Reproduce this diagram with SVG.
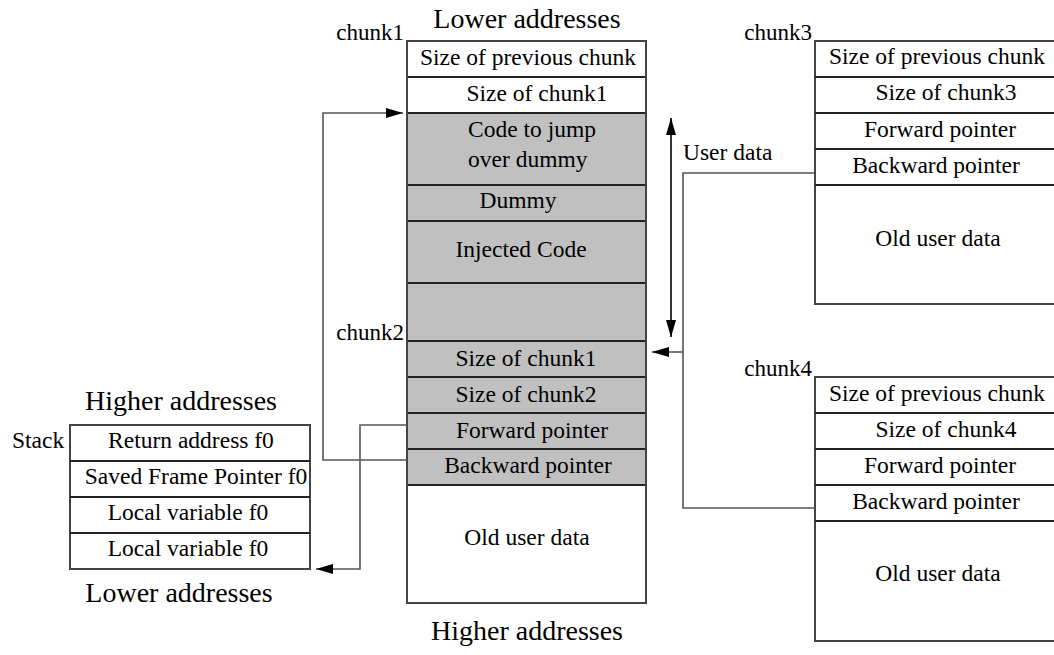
<svg xmlns="http://www.w3.org/2000/svg" width="1054" height="655" viewBox="0 0 1054 655" font-family="'Liberation Serif', 'Times New Roman', Times, serif">
  <style>
    text { fill: #000; }
    .cell { font-size: 23.5px; text-anchor: middle; }
    .big { font-size: 28px; text-anchor: middle; }
    .lbl { font-size: 23px; text-anchor: end; }
    .left { text-anchor: start; }
    .box { fill: #fff; stroke: #444; stroke-width: 2; }
    .gray { fill: #c0c0c0; stroke: none; }
    .div { stroke: #222; stroke-width: 2; fill: none; }
    .conn { stroke: #555; stroke-width: 1.6; fill: none; }
  </style>
  <defs>
    <marker id="arrow" markerUnits="userSpaceOnUse" markerWidth="18" markerHeight="10" refX="17" refY="5" orient="auto">
      <path d="M0,0 L17,5 L0,10 Z" fill="#000"/>
    </marker>
    <marker id="arrowStart" markerUnits="userSpaceOnUse" markerWidth="18" markerHeight="10" refX="1" refY="5" orient="auto">
      <path d="M18,0 L1,5 L18,10 Z" fill="#000"/>
    </marker>
  </defs>

  <rect width="1054" height="655" fill="#fff"/>

  <!-- chunk1 / chunk2 (overwritten chunk) -->
  <g id="chunk1">
    <rect class="box" x="407" y="41" width="239" height="562"/>
    <rect class="gray" x="408" y="113" width="237" height="372"/>
    <path class="div" d="M407,77H646M407,113H646M407,185H646M407,221H646M407,283H646M407,341H646M407,377H646M407,413H646M407,449H646M407,485H646"/>
    <path d="M407,41V603M646,41V603" stroke="#444" stroke-width="2" fill="none"/>
    <text class="big" x="527" y="28">Lower addresses</text>
    <text class="lbl" x="404" y="40">chunk1</text>
    <text class="cell" x="528" y="65">Size of previous chunk</text>
    <text class="cell" x="537" y="101">Size of chunk1</text>
    <text class="cell left" x="468" y="137">Code to jump</text>
    <text class="cell left" x="468" y="167">over dummy</text>
    <text class="cell" x="518" y="208">Dummy</text>
    <text class="cell" x="521" y="257">Injected Code</text>
    <text class="big" x="527" y="640">Higher addresses</text>
  </g>

  <g id="chunk2">
    <text class="lbl" x="404" y="340">chunk2</text>
    <text class="cell" x="526" y="366">Size of chunk1</text>
    <text class="cell" x="526" y="402">Size of chunk2</text>
    <text class="cell" x="532" y="438">Forward pointer</text>
    <text class="cell" x="528" y="473">Backward pointer</text>
    <text class="cell" x="527" y="545">Old user data</text>
  </g>

  <!-- chunk3 -->
  <g id="chunk3">
    <rect class="box" x="815" y="41" width="245" height="263"/>
    <path class="div" d="M815,77H1054M815,113H1054M815,149H1054M815,185H1054"/>
    <text class="lbl" x="812" y="40">chunk3</text>
    <text class="cell" x="937" y="64">Size of previous chunk</text>
    <text class="cell" x="946" y="100">Size of chunk3</text>
    <text class="cell" x="940" y="137">Forward pointer</text>
    <text class="cell" x="936" y="173">Backward pointer</text>
    <text class="cell" x="938" y="246">Old user data</text>
  </g>

  <!-- chunk4 -->
  <g id="chunk4">
    <rect class="box" x="815" y="377" width="245" height="264"/>
    <path class="div" d="M815,413H1054M815,449H1054M815,485H1054M815,521H1054"/>
    <text class="lbl" x="812" y="376">chunk4</text>
    <text class="cell" x="937" y="401">Size of previous chunk</text>
    <text class="cell" x="946" y="437">Size of chunk4</text>
    <text class="cell" x="940" y="473">Forward pointer</text>
    <text class="cell" x="936" y="509">Backward pointer</text>
    <text class="cell" x="938" y="581">Old user data</text>
  </g>

  <!-- stack frame -->
  <g id="stack">
    <rect class="box" x="70" y="425" width="240" height="144"/>
    <path class="div" d="M70,461H310M70,497H310M70,533H310"/>
    <text class="big" x="181" y="410">Higher addresses</text>
    <text class="cell left" x="12" y="448">Stack</text>
    <text class="cell" x="191" y="448">Return address f0</text>
    <text class="cell" x="196" y="484">Saved Frame Pointer f0</text>
    <text class="cell" x="188" y="520">Local variable f0</text>
    <text class="cell" x="188" y="556">Local variable f0</text>
    <text class="big" x="179" y="602">Lower addresses</text>
  </g>

  <!-- pointers and ranges -->
  <g id="connectors">
    <!-- chunk2 bk -> chunk1 code -->
    <path class="conn" d="M407,460H323V113H403" marker-end="url(#arrow)"/>
    <!-- chunk2 fd -> stack -->
    <path class="conn" d="M407,425H360V569H316" marker-end="url(#arrow)"/>
    <!-- user data extent -->
    <path d="M671,118V337" stroke="#000" stroke-width="1.6" fill="none" marker-start="url(#arrowStart)" marker-end="url(#arrow)"/>
    <text class="cell left" x="683" y="160">User data</text>
    <!-- chunk3 bk / chunk4 bk -> chunk2 -->
    <path class="conn" d="M815,173H683V508H815"/>
    <path class="conn" d="M683,352H652" marker-end="url(#arrow)"/>
  </g>
</svg>
